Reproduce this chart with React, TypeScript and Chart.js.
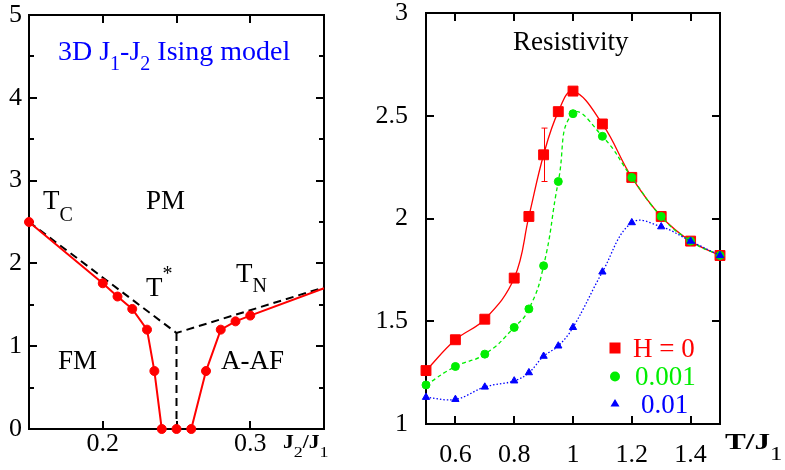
import React, { useEffect, useRef } from 'react';
import { Chart, registerables } from 'chart.js';

Chart.register(...registerables);

// ---------- Left panel: phase diagram (J2/J1 vs T) ----------
const fmBranchX = [0.15, 0.2, 0.21, 0.22, 0.23, 0.235, 0.24];
const fmBranchY = [2.5, 1.76, 1.6, 1.45, 1.2, 0.7, 0];
const midPointX = [0.25];
const midPointY = [0];
const afBranchX = [0.26, 0.27, 0.28, 0.29, 0.3, 0.35];
const afBranchY = [0, 0.7, 1.2, 1.3, 1.37, 1.7];
const tStarX = [0.15, 0.25, 0.35];
const tStarY = [2.5, 1.16, 1.71];
const tStarVertX = [0.25, 0.25];
const tStarVertY = [1.16, 0];

const leftXTickLabels = ['0.2', '0.3'];
const leftXMajor = [0.2, 0.25, 0.3];
const leftYMajor = [0, 1, 2, 3, 4, 5];
const leftYMinor = [0.5, 1.5, 2.5, 3.5, 4.5];

// ---------- Right panel: resistivity vs T/J1 ----------
const temps = [0.5, 0.6, 0.7, 0.8, 0.85, 0.9, 0.95, 1.0, 1.1, 1.2, 1.3, 1.4, 1.5];
const rhoH0 = [1.26, 1.41, 1.51, 1.71, 2.01, 2.31, 2.52, 2.62, 2.46, 2.2, 2.01, 1.89, 1.82];
const rhoH001 = [1.19, 1.28, 1.34, 1.47, 1.56, 1.77, 2.18, 2.51, 2.4, 2.2, 2.01, 1.89, 1.82];
const rhoH01 = [1.13, 1.12, 1.18, 1.21, 1.25, 1.33, 1.38, 1.47, 1.74, 1.98, 1.96, 1.89, 1.82];
const errT = [0.9];
const errLow = [2.18];
const errHigh = [2.44];

const rightXTicks = [0.6, 0.8, 1.0, 1.2, 1.4];
const rightYTicks = [1, 1.5, 2, 2.5, 3];
const legendLabels = ['H = 0', '0.001', '0.01'];

const SERIF = '"Liberation Serif", "Times New Roman", serif';
const RED = '#ff0000';
const GREEN = '#00ee00';
const BLUE = '#0000ff';

const pts = (xs: number[], ys: number[]) => xs.map((x, i) => ({ x, y: ys[i] }));

type Run = { t: string; size: number; dy?: number; weight?: string };

function drawRuns(
  ctx: CanvasRenderingContext2D,
  x: number,
  y: number,
  runs: Run[],
  color: string,
  scaleX = 1
) {
  ctx.save();
  ctx.translate(x, y);
  ctx.scale(scaleX, 1);
  let cx = 0;
  ctx.fillStyle = color;
  ctx.textAlign = 'left';
  ctx.textBaseline = 'alphabetic';
  for (const r of runs) {
    ctx.font = `${r.weight || 'normal'} ${r.size}px ${SERIF}`;
    ctx.fillText(r.t, cx, r.dy || 0);
    cx += ctx.measureText(r.t).width;
  }
  ctx.restore();
}

function framePlugin(xMajor: number[], xMinor: number[], yMajor: number[], yMinor: number[]) {
  return {
    id: 'frame',
    beforeDatasetsDraw(chart: any) {
      const { ctx, chartArea: a, scales } = chart;
      const xs = scales.x;
      const ys = scales.y;
      ctx.save();
      ctx.strokeStyle = '#000';
      ctx.lineWidth = 2;
      ctx.beginPath();
      const xt = (vals: number[], len: number) => {
        for (const v of vals) {
          const p = Math.round(xs.getPixelForValue(v));
          ctx.moveTo(p, a.top);
          ctx.lineTo(p, a.top + len);
          ctx.moveTo(p, a.bottom);
          ctx.lineTo(p, a.bottom - len);
        }
      };
      const yt = (vals: number[], len: number) => {
        for (const v of vals) {
          const p = Math.round(ys.getPixelForValue(v));
          ctx.moveTo(a.left, p);
          ctx.lineTo(a.left + len, p);
          ctx.moveTo(a.right, p);
          ctx.lineTo(a.right - len, p);
        }
      };
      xt(xMajor, 8);
      xt(xMinor, 5);
      yt(yMajor, 8);
      yt(yMinor, 5);
      ctx.stroke();
      ctx.strokeRect(a.left, a.top, a.right - a.left, a.bottom - a.top);
      ctx.restore();
    },
  };
}

const leftTextPlugin = {
  id: 'leftText',
  afterDraw(chart: any) {
    const ctx = chart.ctx as CanvasRenderingContext2D;
    drawRuns(ctx, 58, 60, [
      { t: '3D J', size: 28 },
      { t: '1', size: 20, dy: 10 },
      { t: '-J', size: 28 },
      { t: '2', size: 20, dy: 10 },
      { t: ' Ising model', size: 28 },
    ], BLUE);
    drawRuns(ctx, 43, 209, [{ t: 'T', size: 27 }, { t: 'C', size: 20, dy: 12 }], '#000');
    drawRuns(ctx, 146, 209, [{ t: 'PM', size: 27 }], '#000');
    drawRuns(ctx, 146, 296, [{ t: 'T', size: 27 }, { t: '*', size: 20, dy: -16 }], '#000');
    drawRuns(ctx, 236, 282, [{ t: 'T', size: 27 }, { t: 'N', size: 20, dy: 10 }], '#000');
    drawRuns(ctx, 58, 369, [{ t: 'FM', size: 27 }], '#000');
    drawRuns(ctx, 221, 369, [{ t: 'A-AF', size: 27 }], '#000');
    drawRuns(ctx, 283, 448, [
      { t: 'J', size: 18, weight: 'bold' },
      { t: '2', size: 15, dy: 9 },
      { t: '/J', size: 18, weight: 'bold' },
      { t: '1', size: 15, dy: 9 },
    ], '#000', 1.2);
  },
};

const rightExtrasPlugin = {
  id: 'rightExtras',
  afterDatasetsDraw(chart: any) {
    const { ctx, scales } = chart;
    const xs = scales.x;
    const ys = scales.y;
    ctx.save();
    ctx.strokeStyle = RED;
    ctx.lineWidth = 1;
    ctx.beginPath();
    errT.forEach((t, i) => {
      const px = Math.round(xs.getPixelForValue(t)) + 0.5;
      const lo = ys.getPixelForValue(errLow[i]);
      const hi = ys.getPixelForValue(errHigh[i]);
      ctx.moveTo(px, lo);
      ctx.lineTo(px, hi);
      ctx.moveTo(px - 3, lo);
      ctx.lineTo(px + 3, lo);
      ctx.moveTo(px - 3, hi);
      ctx.lineTo(px + 3, hi);
    });
    ctx.stroke();
    ctx.restore();
  },
  afterDraw(chart: any) {
    const ctx = chart.ctx as CanvasRenderingContext2D;
    drawRuns(ctx, 173, 50, [{ t: 'Resistivity', size: 27 }], '#000');
    // legend markers
    ctx.save();
    const mx = 275;
    ctx.fillStyle = RED;
    ctx.fillRect(mx - 5.5, 348 - 5.5, 11, 11);
    ctx.fillStyle = GREEN;
    ctx.beginPath();
    ctx.arc(mx, 376.5, 5, 0, Math.PI * 2);
    ctx.fill();
    ctx.fillStyle = BLUE;
    ctx.beginPath();
    ctx.moveTo(mx, 399);
    ctx.lineTo(mx + 4.5, 406.5);
    ctx.lineTo(mx - 4.5, 406.5);
    ctx.closePath();
    ctx.fill();
    ctx.restore();
    drawRuns(ctx, 293, 357, [{ t: legendLabels[0], size: 27 }], RED);
    drawRuns(ctx, 295, 385, [{ t: legendLabels[1], size: 27 }], GREEN);
    drawRuns(ctx, 301, 413, [{ t: legendLabels[2], size: 27 }], BLUE);
    // axis title
    drawRuns(ctx, 385, 449, [
      { t: 'T/J', size: 24, weight: 'bold' },
      { t: '1', size: 19, dy: 11 },
    ], '#000', 1.3);
  },
};

export default function App() {
  const leftRef = useRef<HTMLCanvasElement>(null);
  const rightRef = useRef<HTMLCanvasElement>(null);

  useEffect(() => {
    const tickFont = { family: SERIF, size: 26, lineHeight: 1 };
    const left = new Chart(leftRef.current as HTMLCanvasElement, {
      type: 'scatter',
      data: {
        datasets: [
          {
            data: pts(fmBranchX, fmBranchY),
            showLine: true,
            borderColor: RED,
            backgroundColor: RED,
            borderWidth: 2,
            pointRadius: 4.5,
            pointBorderWidth: 1,
            clip: false,
          } as any,
          {
            data: pts(midPointX, midPointY),
            showLine: false,
            borderColor: RED,
            backgroundColor: RED,
            pointRadius: 4.5,
            pointBorderWidth: 1,
            clip: false,
          },
          {
            data: pts(afBranchX, afBranchY),
            showLine: true,
            borderColor: RED,
            backgroundColor: RED,
            borderWidth: 2,
            pointRadius: (c: any) => (c.raw && c.raw.x >= 0.35 ? 0 : 4.5),
            pointBorderWidth: 1,
            clip: false,
          },
          {
            data: pts(tStarX, tStarY),
            showLine: true,
            borderColor: '#000',
            borderWidth: 2,
            borderDash: [8, 5],
            pointRadius: 0,
          },
          {
            data: pts(tStarVertX, tStarVertY),
            showLine: true,
            borderColor: '#000',
            borderWidth: 2,
            borderDash: [8, 5],
            pointRadius: 0,
          },
        ],
      },
      options: {
        animation: false,
        responsive: false,
        devicePixelRatio: 1,
        events: [],
        layout: { padding: { top: 15, right: 16, left: 0, bottom: 0 } },
        plugins: { legend: { display: false }, tooltip: { enabled: false } },
        scales: {
          x: {
            type: 'linear',
            min: 0.15,
            max: 0.35,
            grid: { display: false, drawTicks: false },
            border: { display: false },
            afterBuildTicks: (s: any) => {
              s.ticks = leftXTickLabels.map((l) => ({ value: parseFloat(l) }));
            },
            ticks: {
              font: tickFont,
              color: '#000',
              padding: 2,
              maxRotation: 0,
              autoSkip: false,
              callback: (v: any) => String(Math.round(v * 100) / 100),
            },
            afterFit: (s: any) => {
              s.height = 41;
              s.paddingLeft = 0;
              s.paddingRight = 0;
            },
          },
          y: {
            type: 'linear',
            min: 0,
            max: 5,
            grid: { display: false, drawTicks: false },
            border: { display: false },
            afterBuildTicks: (s: any) => {
              s.ticks = leftYMajor.map((v) => ({ value: v }));
            },
            ticks: { font: tickFont, color: '#000', padding: 7, callback: (v: any) => String(v) },
            afterFit: (s: any) => {
              s.width = 29;
              s.paddingTop = 0;
              s.paddingBottom = 0;
            },
          },
        },
      } as any,
      plugins: [framePlugin(leftXMajor, [], leftYMajor, leftYMinor), leftTextPlugin],
    });

    const curve = (ys: number[], color: string, dash: number[], style: string, radius: number, tension: number) => ({
      data: pts(temps, ys),
      showLine: true,
      borderColor: color,
      backgroundColor: color,
      borderWidth: 1.3,
      borderDash: dash,
      tension,
      pointStyle: style,
      pointRadius: radius,
      pointBorderWidth: 1,
      clip: false,
    });

    const right = new Chart(rightRef.current as HTMLCanvasElement, {
      type: 'scatter',
      data: {
        datasets: [
          curve(rhoH01, BLUE, [1.5, 2], 'triangle', 4.2, 0.4),
          curve(rhoH001, GREEN, [4, 3], 'circle', 4, 0.5),
          curve(rhoH0, RED, [], 'rect', 7, 0.4),
        ].map((d, i) => ({ ...d, order: i })) as any,
      },
      options: {
        animation: false,
        responsive: false,
        devicePixelRatio: 1,
        events: [],
        layout: { padding: { top: 13, right: 65, left: 0, bottom: 0 } },
        plugins: { legend: { display: false }, tooltip: { enabled: false } },
        scales: {
          x: {
            type: 'linear',
            min: 0.5,
            max: 1.5,
            grid: { display: false, drawTicks: false },
            border: { display: false },
            afterBuildTicks: (s: any) => {
              s.ticks = rightXTicks.map((v) => ({ value: v }));
            },
            ticks: {
              font: tickFont,
              color: '#000',
              padding: 18,
              maxRotation: 0,
              autoSkip: false,
              callback: (v: any) => String(Math.round(v * 10) / 10),
            },
            afterFit: (s: any) => {
              s.height = 46;
              s.paddingLeft = 0;
              s.paddingRight = 0;
            },
          },
          y: {
            type: 'linear',
            min: 1,
            max: 3,
            grid: { display: false, drawTicks: false },
            border: { display: false },
            afterBuildTicks: (s: any) => {
              s.ticks = rightYTicks.map((v) => ({ value: v }));
            },
            ticks: { font: tickFont, color: '#000', padding: 18, callback: (v: any) => String(v) },
            afterFit: (s: any) => {
              s.width = 86;
              s.paddingTop = 0;
              s.paddingBottom = 0;
            },
          },
        },
      } as any,
      plugins: [framePlugin(rightXTicks, [], rightYTicks, []), rightExtrasPlugin],
    });

    return () => {
      left.destroy();
      right.destroy();
    };
  }, []);

  return (
    <div style={{ position: 'fixed', left: 0, top: 0, width: 785, height: 470, background: '#fff', overflow: 'hidden' }}>
      <canvas ref={leftRef} width={340} height={470} style={{ position: 'absolute', left: 0, top: 0 }} />
      <canvas ref={rightRef} width={445} height={470} style={{ position: 'absolute', left: 340, top: 0 }} />
    </div>
  );
}
